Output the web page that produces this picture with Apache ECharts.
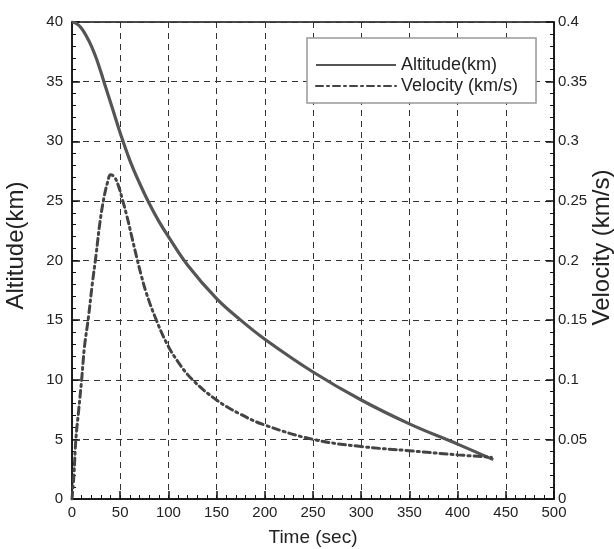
<!DOCTYPE html>
<html>
<head>
<meta charset="utf-8">
<script src="https://cdn.jsdelivr.net/npm/echarts@6/dist/echarts.min.js"></script>
<style>
html,body{margin:0;padding:0;background:#fff;}
#c{width:614px;height:549px;}
</style>
</head>
<body>
<div id="c"></div>
<script>
// Altitude (km) vs time (sec)
const altTime = [0, 5, 10, 15, 20, 25, 30, 35, 41, 50, 60, 70, 80, 90, 100, 120, 150, 175, 200, 250, 300, 350, 400, 437];
const altValues = [40, 39.85, 39.45, 38.8, 38.0, 37.0, 35.8, 34.5, 33.0, 30.7, 28.4, 26.5, 24.8, 23.3, 22.0, 19.6, 16.8, 15.0, 13.4, 10.65, 8.3, 6.3, 4.6, 3.3];
// Velocity (km/s) vs time (sec)
const velTime = [0, 1, 2, 4, 7, 10, 13, 17, 21, 25, 29, 33, 37, 40, 44, 48, 52, 57, 62, 67, 72, 77, 86, 98, 110, 125, 150, 175, 200, 250, 300, 350, 400, 435];
const velValues = [0, 0.01, 0.02, 0.05, 0.075, 0.1, 0.128, 0.152, 0.18, 0.205, 0.232, 0.252, 0.266, 0.272, 0.27, 0.263, 0.252, 0.237, 0.22, 0.203, 0.187, 0.173, 0.153, 0.131, 0.115, 0.1, 0.083, 0.071, 0.062, 0.05, 0.044, 0.0405, 0.037, 0.035];

const xTicks = [0, 500, 50];
const altTicks = [0, 40, 5];
const velTicks = [0, 0.4, 0.05];

const chart = echarts.init(document.getElementById('c'), null, {renderer: 'canvas'});
const font = 'Liberation Sans, Arial, sans-serif';
const ink = '#222';
const gridLine = {show: true, lineStyle: {color: '#333', width: 1, type: [6, 5]}};

chart.setOption({
  backgroundColor: '#fff',
  animation: false,
  grid: {left: 72, right: 60, top: 22, bottom: 50, containLabel: false, outerBoundsMode: 'none',
         show: true, borderColor: '#111', borderWidth: 1.5, backgroundColor: 'transparent'},
  legend: {
    orient: 'vertical',
    left: 307, top: 38,
    padding: [18, 18, 8, 8],
    itemGap: 3,
    itemWidth: 80, itemHeight: 14,
    backgroundColor: '#fff',
    borderColor: '#999', borderWidth: 1.5, borderRadius: 0,
    textStyle: {fontFamily: font, fontSize: 18, color: ink},
    itemStyle: {opacity: 0},
    data: ['Altitude(km)', 'Velocity (km/s)']
  },
  xAxis: {
    type: 'value', min: xTicks[0], max: xTicks[1], interval: xTicks[2],
    name: 'Time (sec)', nameLocation: 'middle', nameGap: 29, nameMoveOverlap: false,
    nameTextStyle: {fontFamily: font, fontSize: 19, color: ink},
    axisLine: {show: true, onZero: false, lineStyle: {color: '#111', width: 1.5}},
    axisTick: {show: true, inside: true, length: 8, lineStyle: {color: '#111', width: 1.5}},
    minorTick: {show: true, splitNumber: 5, length: 4, lineStyle: {color: '#111', width: 1}},
    axisLabel: {fontFamily: font, fontSize: 15, color: ink, margin: 6},
    splitLine: gridLine
  },
  yAxis: [{
    type: 'value', min: altTicks[0], max: altTicks[1], interval: altTicks[2],
    name: 'Altitude(km)', nameLocation: 'middle', nameGap: 44, nameRotate: 90, nameMoveOverlap: false,
    nameTextStyle: {fontFamily: font, fontSize: 24, color: ink, padding: [0, 0, 0, 30]},
    axisLine: {show: true, onZero: false, lineStyle: {color: '#111', width: 1.5}},
    axisTick: {show: true, inside: true, length: 8, lineStyle: {color: '#111', width: 1.5}},
    minorTick: {show: true, splitNumber: 5, length: 4, lineStyle: {color: '#111', width: 1}},
    axisLabel: {fontFamily: font, fontSize: 15, color: ink, margin: 9},
    splitLine: gridLine
  }, {
    type: 'value', position: 'right', min: velTicks[0], max: velTicks[1], interval: velTicks[2],
    name: 'Velocity (km/s)', nameLocation: 'middle', nameGap: 36, nameRotate: 90, nameMoveOverlap: false,
    nameTextStyle: {fontFamily: font, fontSize: 24, color: ink, padding: [0, 0, 0, 26]},
    axisLine: {show: true, onZero: false, lineStyle: {color: '#111', width: 1.5}},
    axisTick: {show: true, inside: true, length: 8, lineStyle: {color: '#111', width: 1.5}},
    minorTick: {show: true, splitNumber: 5, length: 4, lineStyle: {color: '#111', width: 1}},
    axisLabel: {fontFamily: font, fontSize: 15, color: ink, margin: 4},
    splitLine: {show: false}
  }],
  series: [{
    name: 'Altitude(km)', type: 'line', yAxisIndex: 0, smooth: 0.4,
    showSymbol: false, symbol: 'none',
    data: altTime.map((t, i) => [t, altValues[i]]),
    lineStyle: {color: '#555', width: 3.2},
    itemStyle: {color: '#555'}
  }, {
    name: 'Velocity (km/s)', type: 'line', yAxisIndex: 1, smooth: 0.4,
    showSymbol: false, symbol: 'none',
    data: velTime.map((t, i) => [t, velValues[i]]),
    lineStyle: {color: '#444', width: 3, type: [7, 4, 2, 4], cap: 'round'},
    itemStyle: {color: '#444'}
  }]
});
</script>
</body>
</html>
